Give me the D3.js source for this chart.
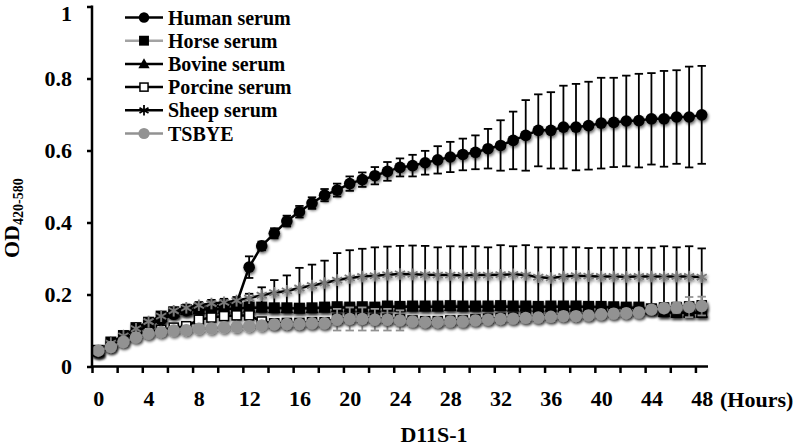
<!DOCTYPE html>
<html><head><meta charset="utf-8">
<script src="https://cdn.jsdelivr.net/npm/d3@7"></script>
<style>
html,body{margin:0;padding:0;background:#fff;}
svg{display:block;}
text{font-family:"Liberation Serif","Times New Roman",serif;font-weight:bold;fill:#000;}
</style></head>
<body>
<svg id="chart" width="799" height="447"></svg>
<script>
// ---------- DATA ----------
const hours = [0,1,2,3,4,5,6,7,8,9,10,11,12,13,14,15,16,17,18,19,20,21,22,23,24,25,26,27,28,29,30,31,32,33,34,35,36,37,38,39,40,41,42,43,44,45,46,47,48];
const xTickLabels = [0,4,8,12,16,20,24,28,32,36,40,44,48];
const yTickValues = [0,0.2,0.4,0.6,0.8,1];
const yTickLabels = ["0","0.2","0.4","0.6","0.8","1"];
const seriesNames = ["Human serum","Horse serum","Bovine serum","Porcine serum","Sheep serum","TSBYE"];

const human = [0.040,0.055,0.075,0.095,0.115,0.130,0.145,0.155,0.160,0.165,0.170,0.175,0.276,0.335,0.370,0.404,0.430,0.454,0.476,0.490,0.508,0.519,0.530,0.542,0.553,0.558,0.566,0.574,0.582,0.589,0.595,0.605,0.614,0.628,0.642,0.656,0.656,0.665,0.665,0.669,0.676,0.678,0.682,0.683,0.688,0.688,0.693,0.693,0.699];
const humanSD = [0.005,0.005,0.005,0.005,0.005,0.005,0.005,0.005,0.005,0.005,0.005,0.006,0.030,0.012,0.014,0.015,0.016,0.016,0.017,0.018,0.020,0.020,0.024,0.026,0.025,0.030,0.033,0.038,0.042,0.044,0.047,0.055,0.070,0.080,0.098,0.100,0.106,0.115,0.120,0.122,0.126,0.124,0.126,0.130,0.127,0.133,0.130,0.140,0.136];

const horse = [0.045,0.068,0.086,0.108,0.123,0.140,0.152,0.158,0.160,0.160,0.162,0.162,0.165,0.165,0.163,0.163,0.162,0.163,0.165,0.166,0.165,0.166,0.165,0.168,0.167,0.168,0.168,0.168,0.169,0.168,0.168,0.168,0.169,0.168,0.168,0.167,0.168,0.168,0.168,0.167,0.167,0.166,0.165,0.165,0.160,0.152,0.150,0.150,0.150];
const horseSD = [0.004,0.005,0.005,0.006,0.006,0.007,0.008,0.008,0.008,0.008,0.008,0.008,0.008,0.008,0.008,0.008,0.008,0.008,0.008,0.008,0.008,0.008,0.008,0.008,0.008,0.008,0.008,0.008,0.008,0.008,0.008,0.008,0.008,0.008,0.008,0.008,0.008,0.008,0.008,0.008,0.008,0.008,0.008,0.008,0.008,0.008,0.008,0.008,0.008];

const bovine = [0.043,0.066,0.085,0.106,0.121,0.137,0.150,0.156,0.158,0.159,0.160,0.161,0.163,0.163,0.162,0.162,0.161,0.162,0.163,0.164,0.164,0.164,0.164,0.166,0.166,0.166,0.166,0.166,0.167,0.166,0.166,0.166,0.167,0.166,0.166,0.165,0.166,0.166,0.166,0.165,0.165,0.164,0.163,0.163,0.158,0.151,0.149,0.149,0.149];
const bovineSD = [0.004,0.005,0.005,0.006,0.006,0.007,0.007,0.007,0.007,0.007,0.007,0.007,0.007,0.007,0.007,0.007,0.007,0.007,0.007,0.007,0.007,0.007,0.007,0.007,0.007,0.007,0.007,0.007,0.007,0.007,0.007,0.007,0.007,0.007,0.007,0.007,0.007,0.007,0.007,0.007,0.007,0.007,0.007,0.007,0.007,0.007,0.007,0.007,0.007];

const porcine = [0.042,0.058,0.072,0.086,0.096,0.102,0.108,0.112,0.130,0.136,0.140,0.142,0.142,0.125,0.120,0.121,0.121,0.123,0.123,0.133,0.135,0.135,0.133,0.133,0.131,0.128,0.126,0.126,0.128,0.128,0.131,0.133,0.135,0.136,0.138,0.139,0.141,0.143,0.143,0.145,0.148,0.150,0.151,0.153,0.160,0.164,0.165,0.167,0.170];
const porcineSD = [0.004,0.005,0.005,0.006,0.006,0.007,0.007,0.007,0.007,0.007,0.007,0.007,0.007,0.007,0.007,0.007,0.007,0.007,0.007,0.007,0.007,0.007,0.007,0.007,0.007,0.007,0.007,0.007,0.007,0.007,0.007,0.007,0.007,0.007,0.007,0.007,0.007,0.007,0.007,0.007,0.007,0.007,0.007,0.007,0.007,0.007,0.007,0.007,0.007];

const sheep = [0.042,0.065,0.085,0.105,0.125,0.140,0.155,0.163,0.170,0.175,0.178,0.183,0.190,0.198,0.205,0.210,0.218,0.225,0.232,0.240,0.246,0.250,0.252,0.255,0.257,0.256,0.255,0.254,0.254,0.253,0.254,0.254,0.255,0.256,0.254,0.248,0.246,0.250,0.252,0.251,0.250,0.250,0.249,0.250,0.250,0.250,0.250,0.250,0.248];
const sheepSD = [0.005,0.006,0.006,0.007,0.007,0.008,0.008,0.009,0.009,0.010,0.010,0.010,0.012,0.022,0.035,0.043,0.056,0.058,0.062,0.075,0.077,0.077,0.079,0.078,0.078,0.080,0.080,0.077,0.080,0.080,0.080,0.077,0.082,0.078,0.083,0.083,0.085,0.081,0.079,0.078,0.080,0.080,0.081,0.080,0.080,0.084,0.081,0.084,0.080];

const tsbye = [0.044,0.054,0.068,0.081,0.091,0.096,0.100,0.101,0.105,0.106,0.109,0.110,0.112,0.114,0.117,0.118,0.118,0.120,0.120,0.130,0.132,0.132,0.130,0.130,0.128,0.125,0.123,0.123,0.125,0.125,0.128,0.130,0.132,0.133,0.135,0.136,0.138,0.140,0.140,0.142,0.145,0.147,0.148,0.150,0.158,0.162,0.163,0.165,0.168];
const tsbyeSD = [0.004,0.004,0.005,0.005,0.006,0.006,0.006,0.007,0.007,0.007,0.007,0.008,0.008,0.008,0.008,0.008,0.008,0.008,0.008,0.030,0.032,0.032,0.030,0.030,0.028,0.010,0.010,0.010,0.010,0.010,0.010,0.010,0.010,0.010,0.010,0.010,0.010,0.010,0.010,0.010,0.010,0.010,0.010,0.010,0.010,0.012,0.015,0.028,0.026];

// ---------- STYLE ----------
const plot = {left: 92, right: 708, top: 6.5, bottom: 366.5};
const BLACK = "#000", GRAY = "#929292";
const series = [
  {name: seriesNames[0], values: human,   sd: humanSD,   line: BLACK, marker: "circle",   fill: BLACK, stroke: BLACK, err: BLACK, r: 5.8},
  {name: seriesNames[1], values: horse,   sd: horseSD,   line: "#a3a3a3", marker: "square", fill: BLACK, stroke: BLACK, err: BLACK},
  {name: seriesNames[2], values: bovine,  sd: bovineSD,  line: BLACK, marker: "triangle", fill: BLACK, stroke: BLACK, err: BLACK},
  {name: seriesNames[3], values: porcine, sd: porcineSD, line: BLACK, marker: "osquare",  fill: "#fff", stroke: BLACK, err: BLACK},
  {name: seriesNames[4], values: sheep,   sd: sheepSD,   line: BLACK, marker: "star",     fill: "none", stroke: "#7a7a7a", err: BLACK},
  {name: seriesNames[5], values: tsbye,   sd: tsbyeSD,   line: GRAY, marker: "circle",   fill: GRAY, stroke: GRAY, err: GRAY, r: 6.2}
];

const svg = d3.select("#chart");
const defs = svg.append("defs");
const f = defs.append("filter").attr("id","sh").attr("x","-60%").attr("y","-60%").attr("width","220%").attr("height","220%");
f.append("feGaussianBlur").attr("in","SourceAlpha").attr("stdDeviation",1.8).attr("result","b");
f.append("feOffset").attr("in","b").attr("dx",1).attr("dy",1.8).attr("result","o");
const ct = f.append("feComponentTransfer").attr("in","o").attr("result","o2");
ct.append("feFuncA").attr("type","linear").attr("slope",0.6);
const fm = f.append("feMerge");
fm.append("feMergeNode").attr("in","o2");
fm.append("feMergeNode").attr("in","SourceGraphic");

const x = d3.scaleLinear().domain([-0.5, 48.5]).range([plot.left, plot.right]);
const y = d3.scaleLinear().domain([0, 1]).range([plot.bottom, plot.top]);

function drawMarker(g, type, cx, cy, s, k) {
  if (type === "circle") {
    g.append("circle").attr("cx", cx).attr("cy", cy).attr("r", (s.r || 5.5)*k).attr("fill", s.fill);
  } else if (type === "square") {
    g.append("rect").attr("x", cx-5.5*k).attr("y", cy-5.5*k).attr("width", 11*k).attr("height", 11*k).attr("fill", s.fill);
  } else if (type === "osquare") {
    g.append("rect").attr("x", cx-4.5*k).attr("y", cy-4.5*k).attr("width", 9*k).attr("height", 9*k).attr("fill", s.fill).attr("stroke", s.stroke).attr("stroke-width", 1.5);
  } else if (type === "triangle") {
    const r = 6.3*k;
    g.append("path").attr("d", `M${cx},${cy-r}L${cx+r},${cy+r*0.75}L${cx-r},${cy+r*0.75}Z`).attr("fill", s.fill);
  } else if (type === "star") {
    const r = 5.8*k;
    const p = [];
    for (let a of [90, 30, -30]) {
      const t = a*Math.PI/180;
      p.push(`M${cx-r*Math.cos(t)},${cy-r*Math.sin(t)}L${cx+r*Math.cos(t)},${cy+r*Math.sin(t)}`);
    }
    g.append("path").attr("d", p.join("")).attr("stroke", s.stroke).attr("stroke-width", 1.8).attr("fill", "none");
  }
}

// ---------- SERIES ----------
const lineGen = d3.line().x((d,i) => x(hours[i])).y(d => y(d));
series.forEach(s => {
  const g = svg.append("g");
  const eb = g.append("g").attr("stroke", s.err).attr("stroke-width", 1.8);
  s.values.forEach((v,i) => {
    const cx = x(hours[i]), y1 = y(v + s.sd[i]), y2 = y(v - s.sd[i]);
    eb.append("line").attr("x1", cx).attr("x2", cx).attr("y1", y1).attr("y2", y2);
    eb.append("line").attr("x1", cx-4.2).attr("x2", cx+4.2).attr("y1", y1).attr("y2", y1);
    eb.append("line").attr("x1", cx-4.2).attr("x2", cx+4.2).attr("y1", y2).attr("y2", y2);
  });
  g.append("path").attr("d", lineGen(s.values)).attr("fill","none").attr("stroke", s.line).attr("stroke-width", 2.5);
  const mg = g.append("g").attr("filter","url(#sh)");
  s.values.forEach((v,i) => drawMarker(mg, s.marker, x(hours[i]), y(v), s, 1));
});

// ---------- AXES ----------
const axStyle = sel => { sel.select(".domain").remove(); sel.selectAll("line").attr("stroke","#000").attr("stroke-width",2.5); };

const yAxis = d3.axisLeft(y).tickValues(yTickValues).tickFormat((d,i) => yTickLabels[i]).tickSize(5).tickPadding(15);
const gy = svg.append("g").attr("transform", `translate(${plot.left},0)`).call(yAxis).call(axStyle);
gy.selectAll("text").attr("font-size", 22).attr("font-family", null).attr("fill","#000");
// keep the top label ("1") inside the picture, as in the reference
gy.selectAll(".tick").filter(d => d === 1).select("text").attr("dy", "0.62em");
svg.append("line").attr("x1", plot.left).attr("x2", plot.left).attr("y1", plot.top - 1).attr("y2", plot.bottom + 1.25).attr("stroke","#000").attr("stroke-width",2.5);

const boundaryTicks = hours.filter(h => h % 2 === 0).map(h => h - 0.5);
const xTicks = d3.axisBottom(x).tickValues(boundaryTicks).tickFormat("").tickSize(6.5);
svg.append("g").attr("transform", `translate(0,${plot.bottom})`).call(xTicks).call(axStyle);
const xLabels = d3.axisBottom(x).tickValues(xTickLabels).tickSize(0).tickPadding(24);
const gxl = svg.append("g").attr("transform", `translate(0,${plot.bottom})`).call(xLabels);
gxl.select(".domain").remove();
gxl.selectAll("text").attr("font-size", 22).attr("font-family", null).attr("fill","#000");
svg.append("line").attr("x1", plot.left - 1.25).attr("x2", plot.right).attr("y1", plot.bottom).attr("y2", plot.bottom).attr("stroke","#000").attr("stroke-width",2.5);

// titles
svg.append("text").attr("x", 720).attr("y", 406.5).attr("font-size", 22).text("(Hours)");
svg.append("text").attr("x", 434).attr("y", 441.5).attr("text-anchor","middle").attr("font-size", 22).text("D11S-1");
const yt = svg.append("text").attr("transform", "translate(18.5,258) rotate(-90)").attr("font-size", 22);
yt.append("tspan").text("OD");
yt.append("tspan").attr("font-size", 14).attr("dy", 4.5).text("420-580");

// ---------- LEGEND ----------
const lg = svg.append("g");
series.forEach((s, i) => {
  const cy = 17.5 + i*23.2;
  lg.append("line").attr("x1", 125).attr("x2", 163).attr("y1", cy).attr("y2", cy).attr("stroke", s.line).attr("stroke-width", 2.5);
  const ms = Object.assign({}, s, s.marker === "star" ? {stroke: BLACK} : {});
  drawMarker(lg, s.marker, 144, cy, ms, 0.9);
  lg.append("text").attr("x", 168).attr("y", cy + 7).attr("font-size", 20).text(s.name);
});
</script>
</body></html>
